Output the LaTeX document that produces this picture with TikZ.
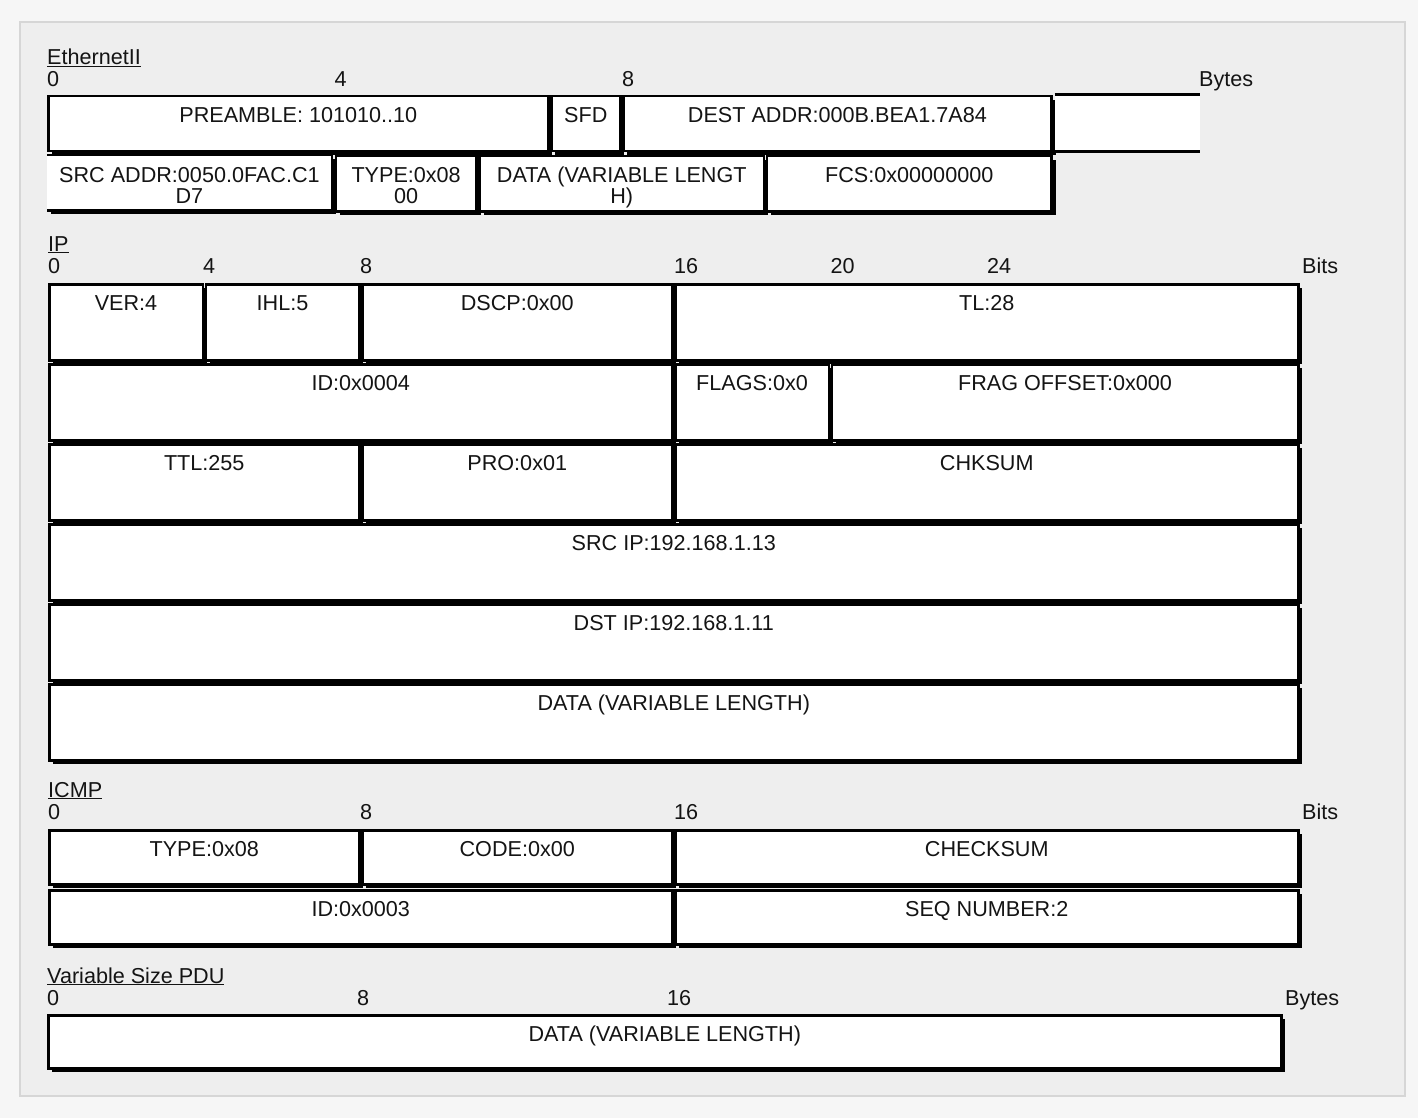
\documentclass[tikz,border=0pt]{standalone}
\usepackage{fontspec}
\setmainfont{Liberation Sans}
\usetikzlibrary{shadows}
\definecolor{pagebg}{HTML}{F6F6F6}
\definecolor{panelbg}{HTML}{EEEEEE}
\definecolor{panelrule}{HTML}{D6D6D6}
\definecolor{ink}{HTML}{141414}
\tikzstyle{fld}=[draw=black, line width=2.5pt, fill=white, inner sep=0, anchor=north west,
	drop shadow={shadow xshift=4pt, shadow yshift=-4pt, fill=black, opacity=1}]
\tikzstyle{fldopen}=[fill=white, inner sep=0, anchor=north west,
	drop shadow={shadow xshift=4pt, shadow yshift=-4pt, fill=black, opacity=1}]
\tikzstyle{ftxt}=[anchor=north, inner sep=0, yshift=-12pt, align=center, text=ink]
\tikzstyle{tick}=[anchor=base west, inner sep=0, text=ink]
\tikzstyle{ttl}=[anchor=base west, inner sep=0, text=ink]
\tikzstyle{edge}=[draw=black, line width=2.5pt]

\begin{document}
\begin{tikzpicture}[x=1pt, y=-1pt, font=\fontsize{21.6}{21}\selectfont]
        \useasboundingbox (0,0) rectangle (1418,1118);
        \fill[pagebg] (0,0) rectangle (1418,1118);
        \draw[panelrule, fill=panelbg, line width=2pt] (20,22) rectangle (1405,1096);

        % EthernetII
        \node[ttl] (ethttl) at (47,65) {\underline{EthernetII}};
        \foreach \b/\x in {0/47, 4/334.5, 8/622}
            \node[tick] (eth\b) at (\x,87) {\b};
        \node[tick] (ethunit) at (1199,87) {Bytes};

        \node[fld, minimum width=500, minimum height=55] (pre) at (47,95) {};
        \node[fld, minimum width=69, minimum height=55] (sfd) at (550,95) {};
        \node[fld, minimum width=428.25, minimum height=55] (dest) at (622,95) {};
        \node[fill=white, inner sep=0, anchor=north west, minimum width=145, minimum height=56] (cont) at (1054.5,95) {};
        \draw[line width=3pt] (cont.north west) -- (cont.north east)
            (cont.south west) -- (cont.south east);

        \node[fldopen, minimum width=284.5, minimum height=55] (src) at (47,155) {};
        \draw[edge] (src.north west) -- (src.north east) -- (src.south east) -- (src.south west);
        \node[fld, minimum width=140.75, minimum height=55] (etype) at (334.5,155) {};
        \node[fld, minimum width=284.5, minimum height=55] (edata) at (478.25,155) {};
        \node[fld, minimum width=284.5, minimum height=55] (fcs) at (765.75,155) {};

        \node[ftxt] (tpre) at (pre.north) {PREAMBLE: 101010..10};
        \node[ftxt] (tsfd) at (sfd.north) {SFD};
        \node[ftxt] (tdest) at (dest.north) {DEST ADDR:000B.BEA1.7A84};
        \node[ftxt] (tsrc) at (src.north) {SRC ADDR:0050.0FAC.C1\\D7};
        \node[ftxt] (tetype) at (etype.north) {TYPE:0x08\\00};
        \node[ftxt] (tedata) at (edata.north) {DATA (VARIABLE LENGT\\H)};
        \node[ftxt] (tfcs) at (fcs.north) {FCS:0x00000000};

        % IP
        \node[ttl] (ipttl) at (48,251) {\underline{IP}};
        \foreach \b/\x in {0/48, 4/203, 8/360, 16/674, 20/830.5, 24/987}
            \node[tick] (ip\b) at (\x,273) {\b};
        \node[tick] (ipunit) at (1302,273) {Bits};

        \node[fld, minimum width=153.5, minimum height=76] (ver) at (48,283) {};
        \node[fld, minimum width=153.5, minimum height=76] (ihl) at (204.5,283) {};
        \node[fld, minimum width=310, minimum height=76] (dscp) at (361,283) {};
        \node[fld, minimum width=623, minimum height=76] (tlen) at (674,283) {};
        \node[fld, minimum width=623, minimum height=76] (ident) at (48,363) {};
        \node[fld, minimum width=153.5, minimum height=76] (flags) at (674,363) {};
        \node[fld, minimum width=466.5, minimum height=76] (frag) at (830.5,363) {};
        \node[fld, minimum width=310, minimum height=76] (tolive) at (48,443) {};
        \node[fld, minimum width=310, minimum height=76] (proto) at (361,443) {};
        \node[fld, minimum width=623, minimum height=76] (chk) at (674,443) {};
        \node[fld, minimum width=1249, minimum height=76] (srcip) at (48,523) {};
        \node[fld, minimum width=1249, minimum height=76] (dstip) at (48,603) {};
        \node[fld, minimum width=1249, minimum height=76] (ipdata) at (48,683) {};

        \node[ftxt] (tver) at (ver.north) {VER:4};
        \node[ftxt] (tihl) at (ihl.north) {IHL:5};
        \node[ftxt] (tdscp) at (dscp.north) {DSCP:0x00};
        \node[ftxt] (ttlen) at (tlen.north) {TL:28};
        \node[ftxt] (tident) at (ident.north) {ID:0x0004};
        \node[ftxt] (tflags) at (flags.north) {FLAGS:0x0};
        \node[ftxt] (tfrag) at (frag.north) {FRAG OFFSET:0x000};
        \node[ftxt] (ttolive) at (tolive.north) {TTL:255};
        \node[ftxt] (tproto) at (proto.north) {PRO:0x01};
        \node[ftxt] (tchk) at (chk.north) {CHKSUM};
        \node[ftxt] (tsrcip) at (srcip.north) {SRC IP:192.168.1.13};
        \node[ftxt] (tdstip) at (dstip.north) {DST IP:192.168.1.11};
        \node[ftxt] (tipdata) at (ipdata.north) {DATA (VARIABLE LENGTH)};

        % ICMP
        \node[ttl] (icmpttl) at (48,797) {\underline{ICMP}};
        \foreach \b/\x in {0/48, 8/360, 16/674}
            \node[tick] (icmp\b) at (\x,819) {\b};
        \node[tick] (icmpunit) at (1302,819) {Bits};

        \node[fld, minimum width=310, minimum height=54] (itype) at (48,829) {};
        \node[fld, minimum width=310, minimum height=54] (icode) at (361,829) {};
        \node[fld, minimum width=623, minimum height=54] (icsum) at (674,829) {};
        \node[fld, minimum width=623, minimum height=54] (iid) at (48,889) {};
        \node[fld, minimum width=623, minimum height=54] (iseq) at (674,889) {};

        \node[ftxt] (titype) at (itype.north) {TYPE:0x08};
        \node[ftxt] (ticode) at (icode.north) {CODE:0x00};
        \node[ftxt] (ticsum) at (icsum.north) {CHECKSUM};
        \node[ftxt] (tiid) at (iid.north) {ID:0x0003};
        \node[ftxt] (tiseq) at (iseq.north) {SEQ NUMBER:2};

        % Variable Size PDU
        \node[ttl] (pduttl) at (47,983) {\underline{Variable Size PDU}};
        \foreach \b/\x in {0/47, 8/357, 16/667}
            \node[tick] (pdu\b) at (\x,1005) {\b};
        \node[tick] (pduunit) at (1285,1005) {Bytes};

        \node[fld, minimum width=1233, minimum height=53] (pdu) at (47,1014) {};
        \node[ftxt] (tpdu) at (pdu.north) {DATA (VARIABLE LENGTH)};
\end{tikzpicture}
\end{document}
